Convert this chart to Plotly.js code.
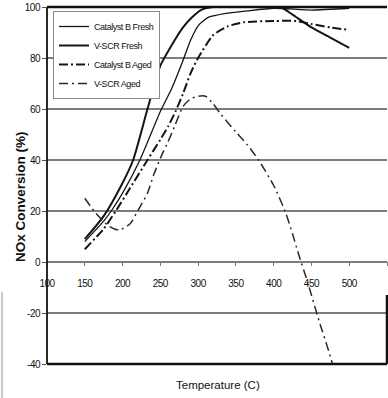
<!DOCTYPE html>
<html>
<head>
<meta charset="utf-8">
<script src="https://cdn.plot.ly/plotly-3.0.1.min.js"></script>
<style>
html,body{margin:0;padding:0;background:#fff;}
#chart{width:388px;height:398px;}
.legendtext{letter-spacing:-0.45px;}
.xtick text,.ytick text{letter-spacing:-0.5px;}
</style>
</head>
<body>
<div id="chart"></div>
<script>
// Series names (legend order)
const seriesNames = ["Catalyst B Fresh", "V-SCR Fresh", "Catalyst B Aged", "V-SCR Aged"];

// Temperatures (C) and NOx conversion (%)
const catBFreshT = [150,175,185,200,223,250,265,280,290,301,314,337,363,400,450,500];
const catBFreshY = [8,16,20,27,40,59,68,79,87,93,96,97.5,98.4,99.5,98.8,99.5];

const vscrFreshT = [150,175,200,214,233,250,265,280,292,305,320,350,400,412,425,450,475,500];
const vscrFreshY = [9,18,31,40,60,77,85,92,96,99,100,100,100,99.5,97,92,88,84];

const catBAgedT = [150,175,191,210,233,250,260,270,280,290,300,320,340,360,400,430,450,475,500];
const catBAgedY = [5,13,20,29,40,48,53,59,66,74,80,89,92.5,94,94.5,94.5,93.3,92,91];

const vscrAgedT = [150,165,182,195,210,220,233,241,252,260,270,280,290,300,310,320,330,350,365,380,400,415,425,432,445,460,475,500];
const vscrAgedY = [25,19,14,12.5,15,20,27,34,42,47,54,61,64,65,65,62,58,51,46,40,30,20,11,4,-8,-23,-37,-65];

// Axis ticks
const xTicks = [100,150,200,250,300,350,400,450,500,550];
const yTicks = [-40,-20,0,20,40,60,80,100];

const sans = "Liberation Sans, Arial, sans-serif";
const ink = "#151515";

const traces = [
  {x: catBFreshT, y: catBFreshY, name: seriesNames[0], mode: "lines",
   line: {color: ink, width: 1.3, shape: "spline", smoothing: 0.6}},
  {x: vscrFreshT, y: vscrFreshY, name: seriesNames[1], mode: "lines",
   line: {color: ink, width: 2, shape: "spline", smoothing: 0.6}},
  {x: catBAgedT, y: catBAgedY, name: seriesNames[2], mode: "lines",
   line: {color: ink, width: 2, dash: "9px,3px,2px,3px", shape: "spline", smoothing: 0.6}},
  {x: vscrAgedT, y: vscrAgedY, name: seriesNames[3], mode: "lines",
   line: {color: "#2a2a2a", width: 1.5, dash: "9px,4px,2px,4px", shape: "spline", smoothing: 0.6}}
];

const W = 388, H = 398, L = 47, R = 1, T = 7, B = 34;
const pw = W - L - R, ph = H - T - B;
const px = v => (v - L) / pw;          // pixel -> paper x
const py = v => (H - B - v) / ph;      // pixel -> paper y

const layout = {
  width: W, height: H,
  margin: {l: L, r: R, t: T, b: B},
  paper_bgcolor: "#fff", plot_bgcolor: "#fff",
  showlegend: true,
  legend: {
    x: px(53), y: py(11), xanchor: "left", yanchor: "top",
    bgcolor: "#fff", bordercolor: "#8a8a8a", borderwidth: 1,
    font: {family: sans, size: 9, color: "#111"},
    tracegroupgap: 0
  },
  xaxis: {
    range: [100, 550], tickvals: xTicks, ticktext: xTicks.map(String),
    anchor: "free", position: py(261),
    showgrid: false, zeroline: false, showline: false,
    ticks: "outside", ticklen: 4, tickcolor: "#777", tickwidth: 1,
    ticklabelstandoff: 9,
    tickfont: {family: sans, size: 10, color: "#111"},
    fixedrange: true
  },
  yaxis: {
    range: [-40, 100], tickvals: yTicks, ticktext: yTicks.map(String),
    showgrid: true, gridcolor: "#7d7d7d", gridwidth: 1.2,
    zeroline: false, showline: false,
    ticks: "outside", ticklen: 4, tickcolor: "#555",
    tickfont: {family: sans, size: 10, color: "#111"},
    fixedrange: true
  },
  shapes: [
    {type: "line", xref: "paper", yref: "paper", x0: 0, x1: 1, y0: 1, y1: 1, line: {color: "#111", width: 2.5}},
    {type: "line", xref: "paper", yref: "paper", x0: 0, x1: 1, y0: 0, y1: 0, line: {color: "#111", width: 2.5}},
    {type: "line", xref: "paper", yref: "paper", x0: 0, x1: 0, y0: 0, y1: 1, line: {color: "#111", width: 1.8}},
    {type: "line", xref: "paper", yref: "paper", x0: 1, x1: 1, y0: 0, y1: py(295), line: {color: "#111", width: 2.5}},
    {type: "line", xref: "paper", yref: "paper", x0: px(2), x1: px(2), y0: py(292), y1: py(398), line: {color: "#c8c8c8", width: 2}}
  ],
  annotations: [
    {text: "<b>NOx Conversion (%)</b>", xref: "paper", yref: "paper", x: px(20), y: py(197),
     textangle: -90, showarrow: false, xanchor: "center", yanchor: "middle",
     font: {family: sans, size: 13.5, color: "#111"}},
    {text: "Temperature (C)", xref: "paper", yref: "paper", x: px(218), y: py(385),
     showarrow: false, xanchor: "center", yanchor: "middle",
     font: {family: sans, size: 11.5, color: "#111"}}
  ]
};

Plotly.newPlot("chart", traces, layout, {displayModeBar: false, staticPlot: true});
</script>
</body>
</html>
